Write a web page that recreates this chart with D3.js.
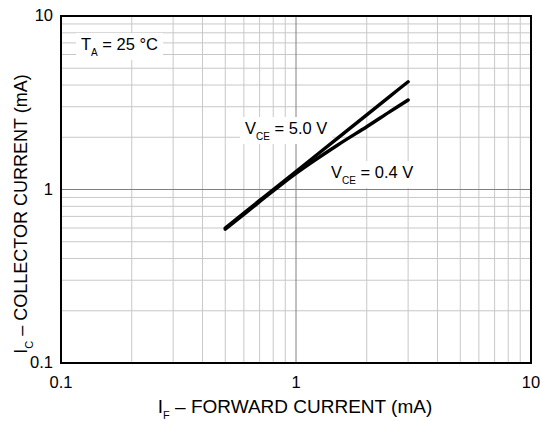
<!DOCTYPE html>
<html><head><meta charset="utf-8">
<script src="https://cdn.jsdelivr.net/npm/d3@7"></script>
<style>body{margin:0;background:#fff}svg{display:block}text{font-family:"Liberation Sans",Arial,sans-serif;fill:#000}</style>
</head><body><svg id="c" width="540" height="421"></svg>
<script>
const xTicks = [0.1, 1, 10];
const yTicks = [0.1, 1, 10];
const xTickLabels = ["0.1", "1", "10"];
const yTickLabels = ["0.1", "1", "10"];
const minorGrid = [0.2,0.3,0.4,0.5,0.6,0.7,0.8,0.9,2,3,4,5,6,7,8,9];
const majorGrid = [1];
const ifVals = [0.5, 0.7, 1, 1.5, 2, 2.5, 3];
const ic50 = [0.6, 0.865, 1.27, 1.97, 2.69, 3.43, 4.18];
const ic04 = [0.59, 0.85, 1.24, 1.8, 2.3, 2.8, 3.28];

const svg = d3.select("#c");
const L=61, R=531, T=16, B=363;
const x = d3.scaleLog().domain([0.1,10]).range([L,R]);
const y = d3.scaleLog().domain([0.1,10]).range([B,T]);

const g = svg.append("g");
g.selectAll(".vmin").data(minorGrid).enter().append("line")
 .attr("x1",d=>x(d)).attr("x2",d=>x(d)).attr("y1",T).attr("y2",B)
 .attr("stroke","#c8c8c8").attr("stroke-width",1);
g.selectAll(".hmin").data(minorGrid).enter().append("line")
 .attr("y1",d=>y(d)).attr("y2",d=>y(d)).attr("x1",L).attr("x2",R)
 .attr("stroke","#c8c8c8").attr("stroke-width",1);
g.selectAll(".vmaj").data(majorGrid).enter().append("line")
 .attr("x1",d=>x(d)).attr("x2",d=>x(d)).attr("y1",T).attr("y2",B)
 .attr("stroke","#808080").attr("stroke-width",1);
g.selectAll(".hmaj").data(majorGrid).enter().append("line")
 .attr("y1",d=>y(d)).attr("y2",d=>y(d)).attr("x1",L).attr("x2",R)
 .attr("stroke","#808080").attr("stroke-width",1);

const labG = svg.append("g");
function label(px, py, main, sub, rest){
  const t = labG.append("text").attr("x",px).attr("y",py).attr("font-size",16.5);
  t.append("tspan").text(main);
  t.append("tspan").attr("font-size",10).attr("dy",6).text(sub);
  t.append("tspan").attr("dy",-6).text(rest);
  const bb = t.node().getBBox();
  labG.insert("rect", "text").attr("x",bb.x-5).attr("y",bb.y-2).attr("width",bb.width+10).attr("height",bb.height+4).attr("fill","#fff");
}
label(81, 50, "T", "A", " = 25 °C");
label(245, 134, "V", "CE", " = 5.0 V");
label(331, 178, "V", "CE", " = 0.4 V");

const line = d3.line().x(d=>x(d[0])).y(d=>y(d[1])).curve(d3.curveCatmullRom);
svg.append("path").datum(ifVals.map((v,i)=>[v,ic50[i]])).attr("d",line)
 .attr("fill","none").attr("stroke","#000").attr("stroke-width",3.4).attr("stroke-linecap","round");
svg.append("path").datum(ifVals.map((v,i)=>[v,ic04[i]])).attr("d",line)
 .attr("fill","none").attr("stroke","#000").attr("stroke-width",3.4).attr("stroke-linecap","round");

svg.append("rect").attr("x",L).attr("y",T).attr("width",R-L).attr("height",B-T)
 .attr("fill","none").attr("stroke","#000").attr("stroke-width",2);

svg.selectAll(".xt").data(xTicks).enter().append("text")
 .attr("x",d=>x(d)).attr("y",388).attr("text-anchor","middle").attr("font-size",16.5)
 .text((d,i)=>xTickLabels[i]);
svg.selectAll(".yt").data(yTicks).enter().append("text")
 .attr("x",53).attr("y",d=>y(d)+5).attr("text-anchor","end").attr("font-size",16.5)
 .text((d,i)=>yTickLabels[i]);

const xt = svg.append("text").attr("x",295).attr("y",413).attr("text-anchor","middle").attr("font-size",19);
xt.append("tspan").text("I");
xt.append("tspan").attr("font-size",11).attr("dy",6).text("F");
xt.append("tspan").attr("dy",-6).text(" – FORWARD CURRENT (mA)");

const yt = svg.append("text").attr("transform","translate(27,214) rotate(-90)").attr("text-anchor","middle").attr("font-size",18);
yt.append("tspan").text("I");
yt.append("tspan").attr("font-size",11).attr("dy",6).text("C");
yt.append("tspan").attr("dy",-6).text(" – COLLECTOR CURRENT (mA)");
</script></body></html>
